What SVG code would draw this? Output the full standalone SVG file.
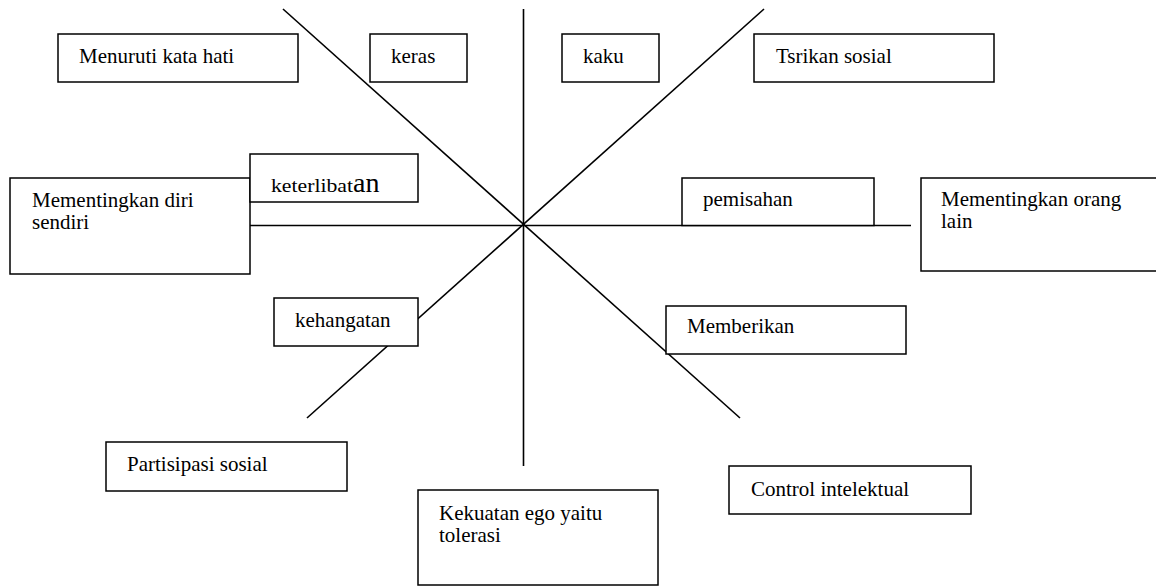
<svg xmlns="http://www.w3.org/2000/svg" width="1156" height="586" viewBox="0 0 1156 586">
<style>
.box{fill:#fff;stroke:#000;stroke-width:1.5}
.ln{stroke:#000;stroke-width:1.6;fill:none}
</style>
<rect width="1156" height="586" fill="#fff"/>
<g id="connectors">
<line class="ln" x1="283" y1="9" x2="740" y2="418"/>
<line class="ln" x1="764" y1="9" x2="307" y2="418"/>
<line class="ln" x1="523.5" y1="9" x2="523.5" y2="466"/>
<line class="ln" x1="250" y1="225.5" x2="911" y2="225.5"/>
</g>
<g font-family="'Liberation Serif', 'Times New Roman', Times, serif" font-size="21" fill="#000">
<g id="menuruti"><rect class="box" x="58" y="34" width="240" height="48"/><text x="79" y="63">Menuruti kata hati</text></g>
<g id="keras"><rect class="box" x="370" y="34" width="97" height="48"/><text x="391" y="63">keras</text></g>
<g id="kaku"><rect class="box" x="562" y="34" width="97" height="48"/><text x="583" y="63">kaku</text></g>
<g id="tsrikan"><rect class="box" x="754" y="34" width="240" height="48"/><text x="776" y="63">Tsrikan sosial</text></g>
<g id="diri"><rect class="box" x="10" y="178" width="240" height="96"/><text x="32" y="207">Mementingkan diri</text><text x="32" y="229">sendiri</text></g>
<g id="keterlibatan"><rect class="box" x="250" y="154" width="168" height="48"/><text x="271" y="192"><tspan font-size="18" textLength="82" lengthAdjust="spacingAndGlyphs">keterlibat</tspan><tspan font-size="28">an</tspan></text></g>
<g id="pemisahan"><rect class="box" x="682" y="178" width="192" height="47.5"/><text x="703" y="206">pemisahan</text></g>
<g id="orang"><rect class="box" x="921" y="178" width="240" height="93"/><text x="941" y="206">Mementingkan orang</text><text x="941" y="228">lain</text></g>
<g id="kehangatan"><rect class="box" x="274" y="298" width="144" height="48"/><text x="295" y="327">kehangatan</text></g>
<g id="memberikan"><rect class="box" x="666" y="306" width="240" height="48"/><text x="687" y="333">Memberikan</text></g>
<g id="partisipasi"><rect class="box" x="106" y="442" width="241" height="49"/><text x="127" y="471">Partisipasi sosial</text></g>
<g id="kekuatan"><rect class="box" x="418" y="490" width="240" height="95"/><text x="439" y="520">Kekuatan ego yaitu</text><text x="439" y="542">tolerasi</text></g>
<g id="control"><rect class="box" x="729" y="466" width="242" height="48"/><text x="751" y="496">Control intelektual</text></g>
</g>
</svg>
